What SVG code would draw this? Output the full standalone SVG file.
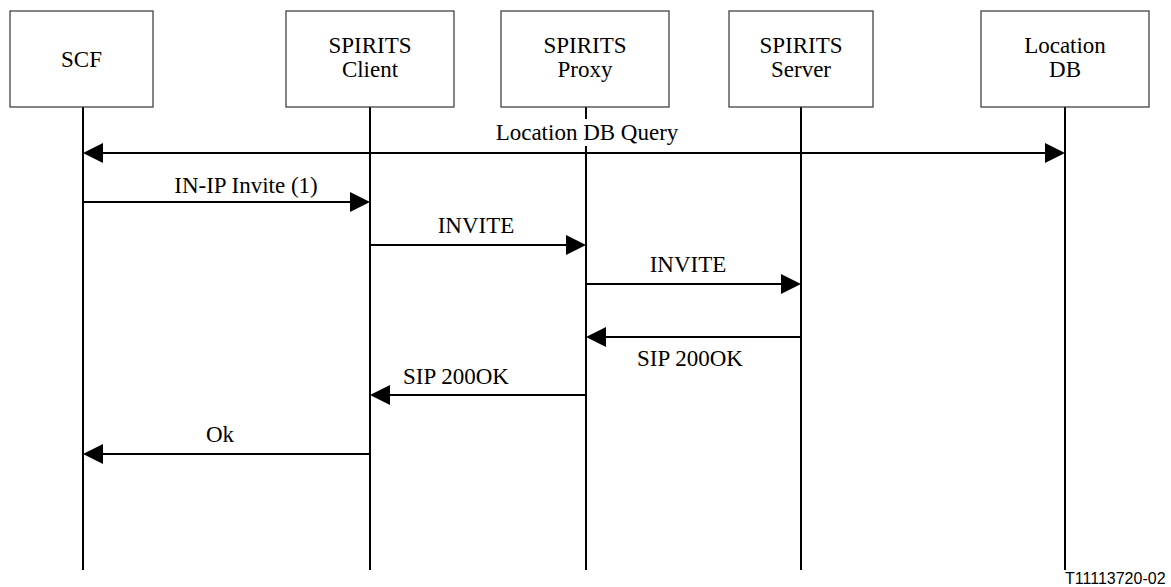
<svg xmlns="http://www.w3.org/2000/svg" width="1171" height="587" viewBox="0 0 1171 587">
<defs>
<path id="ahr" d="M-20,-10 L0,0 L-20,10 z" fill="#000"/>
<path id="ahl" d="M20,-10 L0,0 L20,10 z" fill="#000"/>
</defs>
<rect width="1171" height="587" fill="#fff"/>
<g id="lifelines" stroke="#000" stroke-width="2">
<line x1="83" y1="107" x2="83" y2="570"/>
<line x1="370" y1="107" x2="370" y2="570"/>
<line x1="586" y1="107" x2="586" y2="570"/>
<line x1="801" y1="107" x2="801" y2="570"/>
<line x1="1065" y1="107" x2="1065" y2="570"/>
</g>
<g id="node-scf">
<rect x="10" y="11" width="143" height="96" fill="#fff" stroke="#333" stroke-width="1.2"/>
<text x="81.5" y="67" font-size="23" font-family="Liberation Serif" text-anchor="middle">SCF</text>
</g>
<g id="node-client">
<rect x="286" y="11" width="168" height="96" fill="#fff" stroke="#333" stroke-width="1.2"/>
<text x="370" y="53" font-size="23" font-family="Liberation Serif" text-anchor="middle">SPIRITS</text>
<text x="370" y="77" font-size="23" font-family="Liberation Serif" text-anchor="middle">Client</text>
</g>
<g id="node-proxy">
<rect x="501" y="11" width="168" height="96" fill="#fff" stroke="#333" stroke-width="1.2"/>
<text x="585" y="53" font-size="23" font-family="Liberation Serif" text-anchor="middle">SPIRITS</text>
<text x="585" y="77" font-size="23" font-family="Liberation Serif" text-anchor="middle">Proxy</text>
</g>
<g id="node-server">
<rect x="729" y="11" width="144" height="96" fill="#fff" stroke="#333" stroke-width="1.2"/>
<text x="801" y="53" font-size="23" font-family="Liberation Serif" text-anchor="middle">SPIRITS</text>
<text x="801" y="77" font-size="23" font-family="Liberation Serif" text-anchor="middle">Server</text>
</g>
<g id="node-locdb">
<rect x="981" y="11" width="168" height="96" fill="#fff" stroke="#333" stroke-width="1.2"/>
<text x="1065" y="53" font-size="23" font-family="Liberation Serif" text-anchor="middle">Location</text>
<text x="1065" y="77" font-size="23" font-family="Liberation Serif" text-anchor="middle">DB</text>
</g>
<g id="connectors">
<rect x="494" y="119" width="186" height="27" fill="#fff"/>
<text x="587" y="140" font-size="23" font-family="Liberation Serif" text-anchor="middle">Location DB Query</text>
<line x1="90" y1="153" x2="1058" y2="153" stroke="#000" stroke-width="2"/>
<use href="#ahl" x="83" y="153"/>
<use href="#ahr" x="1065" y="153"/>
<text x="246" y="193" font-size="23" font-family="Liberation Serif" text-anchor="middle">IN-IP Invite (1)</text>
<line x1="83" y1="202" x2="362" y2="202" stroke="#000" stroke-width="2"/>
<use href="#ahr" x="370" y="202"/>
<text x="476" y="233" font-size="23" font-family="Liberation Serif" text-anchor="middle">INVITE</text>
<line x1="370" y1="245" x2="578" y2="245" stroke="#000" stroke-width="2"/>
<use href="#ahr" x="586" y="245"/>
<text x="688" y="272" font-size="23" font-family="Liberation Serif" text-anchor="middle">INVITE</text>
<line x1="586" y1="284" x2="793" y2="284" stroke="#000" stroke-width="2"/>
<use href="#ahr" x="801" y="284"/>
<line x1="801" y1="337" x2="594" y2="337" stroke="#000" stroke-width="2"/>
<use href="#ahl" x="586" y="337"/>
<text x="690" y="366" font-size="23" font-family="Liberation Serif" text-anchor="middle">SIP 200OK</text>
<text x="456" y="384" font-size="23" font-family="Liberation Serif" text-anchor="middle">SIP 200OK</text>
<line x1="586" y1="395" x2="378" y2="395" stroke="#000" stroke-width="2"/>
<use href="#ahl" x="370" y="395"/>
<text x="220" y="442" font-size="23" font-family="Liberation Serif" text-anchor="middle">Ok</text>
<line x1="370" y1="454" x2="91" y2="454" stroke="#000" stroke-width="2"/>
<use href="#ahl" x="83" y="454"/>
</g>
<text x="1065" y="584" font-size="16" font-family="Liberation Sans">T11113720-02</text>
</svg>
